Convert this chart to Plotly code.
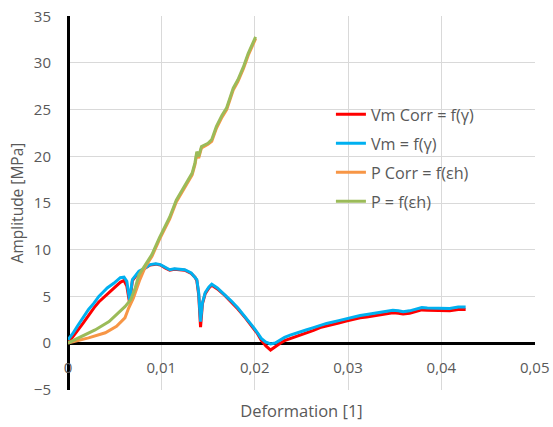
import plotly.graph_objects as go

# ---- data ----
vm_x = [0.0000, 0.0005, 0.0010, 0.0016, 0.0022, 0.0028, 0.0033, 0.0038, 0.0042, 0.0049,
        0.0056, 0.0060, 0.0063, 0.0066, 0.0069, 0.0076, 0.0082, 0.0088, 0.0094, 0.0099,
        0.0104, 0.0109, 0.0114, 0.0119, 0.0125, 0.0132, 0.0136, 0.0138, 0.0140, 0.0142,
        0.0144, 0.0147, 0.0151, 0.0154, 0.0160, 0.0168, 0.0175, 0.0182, 0.0190, 0.0197,
        0.0203, 0.0207, 0.0212, 0.0217, 0.0222, 0.0227, 0.0232, 0.0238, 0.0245, 0.0255,
        0.0263, 0.0270, 0.0277, 0.0290, 0.0298, 0.0306, 0.0313, 0.0320, 0.0327, 0.0338,
        0.0348, 0.0354, 0.0359, 0.0366, 0.0372, 0.0379, 0.0385, 0.0391, 0.0400, 0.0409,
        0.0418, 0.0426]
vm_y = [0.35, 1.0, 1.8, 2.7, 3.6, 4.3, 5.0, 5.5, 5.9, 6.4,
        7.0, 7.05, 6.6, 4.6, 6.8, 7.7, 8.0, 8.4, 8.5, 8.4,
        8.1, 7.85, 7.95, 7.9, 7.85, 7.5, 7.1, 6.8, 5.4, 2.3,
        4.3, 5.4, 6.0, 6.3, 5.9, 5.2, 4.5, 3.75, 2.8, 1.9,
        1.1, 0.5, 0.1, -0.1, 0.0, 0.3, 0.6, 0.85, 1.1, 1.4,
        1.65, 1.9, 2.1, 2.4, 2.6, 2.8, 2.95, 3.05, 3.15, 3.3,
        3.5, 3.45, 3.35, 3.45, 3.6, 3.8, 3.75, 3.75, 3.72, 3.7,
        3.85, 3.85]
vm_corr_y = [0.0, 0.6, 1.3, 2.1, 3.0, 3.8, 4.4, 4.85, 5.2, 5.9,
             6.5, 6.7, 6.1, 4.3, 6.7, 7.6, 7.95, 8.35, 8.45, 8.35,
             8.05, 7.8, 7.9, 7.85, 7.8, 7.45, 7.05, 6.7, 5.2, 1.7,
             4.2, 5.3, 5.9, 6.2, 5.8, 5.1, 4.4, 3.65, 2.7, 1.8,
             1.0, 0.3, -0.3, -0.75, -0.35, -0.05, 0.25, 0.45, 0.75, 1.1,
             1.35, 1.65, 1.85, 2.15, 2.35, 2.55, 2.7, 2.8, 2.9, 3.05,
             3.25, 3.2, 3.1, 3.2, 3.35, 3.55, 3.5, 3.5, 3.47, 3.45,
             3.6, 3.6]

p_x = [0.0000, 0.0015, 0.0029, 0.0044, 0.0054, 0.0061, 0.0067, 0.0072, 0.0076, 0.0083,
       0.0090, 0.0098, 0.0109, 0.0116, 0.0122, 0.0127, 0.0133, 0.0136, 0.0138, 0.0140,
       0.0143, 0.0150, 0.0154, 0.0159, 0.0165, 0.0170, 0.0177, 0.0182, 0.0188, 0.0193,
       0.0201]
p_y = [0.0, 0.7, 1.4, 2.3, 3.2, 3.9, 4.6, 5.9, 7.3, 8.4,
       9.5, 11.3, 13.5, 15.3, 16.3, 17.2, 18.2, 19.3, 20.5, 20.0,
       21.05, 21.4, 21.8, 23.2, 24.4, 25.2, 27.3, 28.2, 29.6, 31.0,
       32.8]

pc_x = [0.0000, 0.0022, 0.0040, 0.0052, 0.0061, 0.0065, 0.0070, 0.0074, 0.0077, 0.0083,
        0.0090, 0.0098, 0.0109, 0.0116, 0.0122, 0.0127, 0.0133, 0.0136, 0.0138, 0.0140,
        0.0143, 0.0150, 0.0154, 0.0159, 0.0165, 0.0170, 0.0177, 0.0182, 0.0188, 0.0193,
        0.0201]
pc_y = [0.0, 0.55, 1.1, 1.8, 2.7, 3.75, 4.8, 5.9, 6.8, 8.2,
        9.3, 11.1, 13.3, 15.1, 16.1, 17.0, 18.0, 19.1, 20.3, 19.8,
        20.9, 21.3, 21.6, 23.0, 24.2, 25.0, 27.1, 28.0, 29.4, 30.8,
        32.6]

series_names = ["Vm Corr = f(γ)", "Vm = f(γ)", "P Corr = f(εh)", "P = f(εh)"]
x_ticks = [0, 0.01, 0.02, 0.03, 0.04, 0.05]
y_ticks = [-5, 0, 5, 10, 15, 20, 25, 30, 35]

colors = ["#FF0000", "#00B0F0", "#F79646", "#9BBB59"]
font_family = "'Open Sans', Lato, sans-serif"
grey = "#595959"

fig = go.Figure()
series = [(vm_x, vm_corr_y), (vm_x, vm_y), (pc_x, pc_y), (p_x, p_y)]
for i, ((xs, ys), name) in enumerate(zip(series, series_names)):
    fig.add_trace(go.Scatter(x=xs, y=ys, mode="lines", name=name,
                             line=dict(color=colors[i], width=3),
                             legendgroup=f"g{i}"))

fig.update_layout(
    width=553, height=427,
    margin=dict(l=68, r=18, t=16, b=37),
    paper_bgcolor="white", plot_bgcolor="white",
    separators=", ",
    font=dict(family=font_family, size=15, color=grey),
    showlegend=True,
    legend=dict(x=0.563, y=0.783, xanchor="left", yanchor="top",
                bgcolor="rgba(0,0,0,0)", tracegroupgap=5,
                font=dict(family=font_family, size=16.2, color=grey)),
)
fig.update_xaxes(
    range=[0, 0.05003], tickvals=x_ticks, showgrid=True, gridcolor="#D9D9D9", gridwidth=1,
    zeroline=True, zerolinecolor="black", zerolinewidth=3,
    showline=False, ticks="", anchor="free", position=0.125,
    ticklabelstandoff=14, automargin=False, ticklabeloverflow="allow",
    tickfont=dict(size=15, color=grey),
    title=dict(text="Deformation [1]", font=dict(size=16.5, color=grey), standoff=29),
)
fig.update_yaxes(
    range=[-5.03, 35.03], tickvals=y_ticks, showgrid=True, gridcolor="#D9D9D9", gridwidth=1,
    zeroline=True, zerolinecolor="black", zerolinewidth=3,
    showline=False, ticks="", ticklabelstandoff=16, automargin=False,
    ticklabeloverflow="allow",
    tickfont=dict(size=15, color=grey),
    title=dict(text="Amplitude [MPa]", font=dict(size=15.5, color=grey), standoff=6),
)

fig.write_html(
    "out.html",
    config={"displayModeBar": False},
    post_script="document.body.style.margin='0';document.body.style.overflow='hidden';",
)
